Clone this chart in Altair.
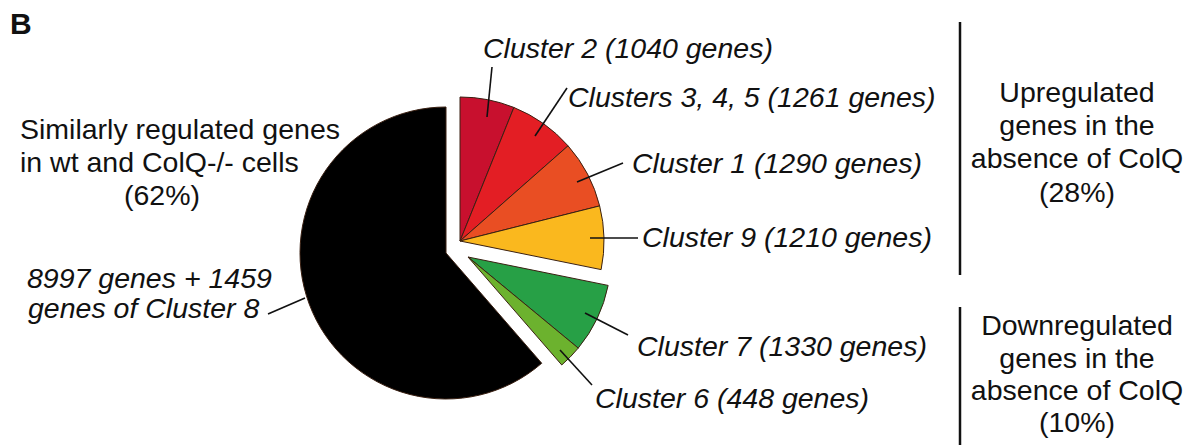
import math
from itertools import accumulate
import altair as alt
import pandas as pd

# ---- data ----
slice_names = ["Cluster 2", "Clusters 3, 4, 5", "Cluster 1", "Cluster 9",
               "Cluster 7", "Cluster 6", "Similarly regulated"]
slice_genes = [1040, 1261, 1290, 1210, 1330, 448, 8997 + 1459]
slice_groups = ["up", "up", "up", "up", "down", "down", "similar"]
slice_colors = ["#C8102E", "#E31E24", "#E94E23", "#FAB81E",
                "#27A046", "#6CB22E", "#000000"]

total = sum(slice_genes)
ends = list(accumulate(slice_genes))
starts = [e - v for e, v in zip(ends, slice_genes)]
slices = pd.DataFrame({"name": slice_names, "genes": slice_genes,
                       "group": slice_groups, "start": starts, "end": ends})

# ---- layout (pixel positions of annotations) ----
W, H = 1182, 437
centers = {"similar": (438, 245, 146), "up": (452, 233, 144), "down": (460, 249, 143)}

italic_labels = pd.DataFrame({
    "text": ["Cluster 2 (1040 genes)", "Clusters 3, 4, 5 (1261 genes)",
             "Cluster 1 (1290 genes)", "Cluster 9 (1210 genes)",
             "Cluster 7 (1330 genes)", "Cluster 6 (448 genes)",
             "8997 genes + 1459", "genes of Cluster 8"],
    "x": [475, 560, 624, 634, 629, 587, 19, 20],
    "y": [50, 99, 165, 239, 348, 400, 280, 310],
})
left_labels = pd.DataFrame({
    "text": ["Similarly regulated genes", "in wt and ColQ-/- cells"],
    "x": [12, 12], "y": [131, 164],
})
center_labels = pd.DataFrame({
    "text": ["(62%)", "Upregulated", "genes in the", "absence of ColQ", "(28%)",
             "Downregulated", "genes in the", "absence of ColQ", "(10%)"],
    "x": [154, 1069, 1069, 1069, 1069, 1069, 1069, 1069, 1069],
    "y": [197, 93.7, 127, 160.3, 193.7, 327, 359.5, 392, 424],
})
leaders = pd.DataFrame({
    "x": [484, 559, 615, 630, 620, 584, 260],
    "y": [59, 80, 155, 230, 327, 377, 306],
    "x2": [479, 527, 569, 582, 577, 552, 297],
    "y2": [109, 128, 174, 230, 305, 342, 290],
})
brackets = pd.DataFrame({"x": [952, 952], "y": [14, 299], "y2": [267, 440]})

FONT = "Liberation Sans"
FS = 28.5


def arc_layer(group):
    cx, cy, r = centers[group]
    return alt.Chart(slices).transform_filter(
        alt.datum.group == group
    ).mark_arc(radius=r, stroke="#3a2012", strokeWidth=1).encode(
        theta=alt.Theta("start:Q", scale=alt.Scale(domain=[0, total], range=[0, 2 * math.pi])),
        theta2="end:Q",
        color=alt.Color("name:N", scale=alt.Scale(domain=slice_names, range=slice_colors), legend=None),
        x=alt.value(cx), y=alt.value(cy),
    )


def text_layer(df, align, style="normal", weight="normal", size=FS):
    return alt.Chart(df).mark_text(
        align=align, baseline="alphabetic", font=FONT, fontSize=size,
        fontStyle=style, fontWeight=weight, color="#111111",
    ).encode(
        x=alt.X("x:Q", scale=None, axis=None),
        y=alt.Y("y:Q", scale=None, axis=None),
        text="text:N",
    )


leader_layer = alt.Chart(leaders).mark_rule(color="#111111", strokeWidth=1.6).encode(
    x=alt.X("x:Q", scale=None, axis=None), y=alt.Y("y:Q", scale=None, axis=None),
    x2="x2:Q", y2="y2:Q",
)
bracket_layer = alt.Chart(brackets).mark_rule(color="#111111", strokeWidth=2.5).encode(
    x=alt.X("x:Q", scale=None, axis=None), y=alt.Y("y:Q", scale=None, axis=None),
    y2="y2:Q",
)
panel = text_layer(pd.DataFrame({"text": ["B"], "x": [2], "y": [26]}), "left",
                   weight="bold", size=30)

chart = alt.layer(
    arc_layer("similar"), arc_layer("up"), arc_layer("down"),
    leader_layer, bracket_layer,
    text_layer(italic_labels, "left", style="italic"),
    text_layer(left_labels, "left"),
    text_layer(center_labels, "center"),
    panel,
).properties(
    width=W, height=H, padding=0,
    autosize=alt.AutoSizeParams(type="none"),
    background="white",
).configure_view(stroke=None)

chart.save("out.html", embed_options={"renderer": "svg", "actions": False})
